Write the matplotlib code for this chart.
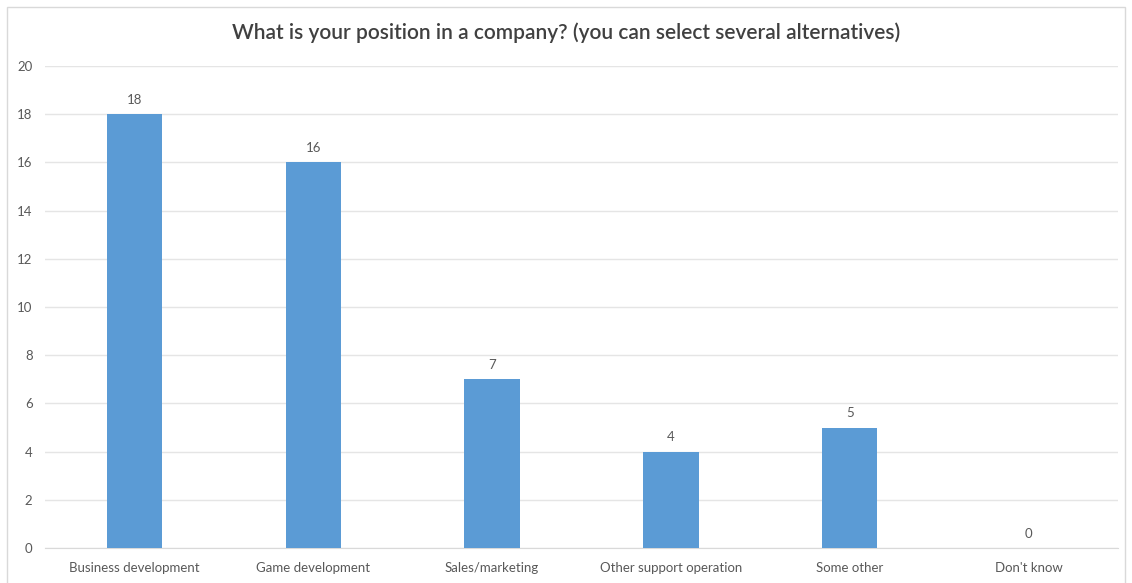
import matplotlib
matplotlib.use("Agg")
import matplotlib.pyplot as plt
from matplotlib.patches import Rectangle

categories = ["Business development", "Game development", "Sales/marketing",
              "Other support operation", "Some other", "Don't know"]
counts = [18, 16, 7, 4, 5, 0]
yticks = [0, 2, 4, 6, 8, 10, 12, 14, 16, 18, 20]
title = "What is your position in a company? (you can select several alternatives)"

plt.rcParams["font.family"] = ["Lato", "DejaVu Sans"]

fig = plt.figure(figsize=(11.32, 5.83), dpi=100)
ax = fig.add_axes([0.0398, 0.060, 0.9478, 0.8268])

# chart frame
fig.patches.append(Rectangle((7 / 1132, -0.01), 1 - 14 / 1132, 1 - 7 / 583 + 0.01,
                             transform=fig.transFigure, fill=False,
                             edgecolor="#D9D9D9", linewidth=1.0))

x = range(len(categories))
bars = ax.bar(x, counts, width=0.31, color="#5B9BD5", zorder=3)
for xi, v in zip(x, counts):
    ax.text(xi, v + 0.35, str(v), ha="center", va="bottom",
            fontsize=9.5, color="#595959")

ax.set_xlim(-0.5, len(categories) - 0.5)
ax.set_ylim(0, 20)
ax.set_yticks(yticks)
ax.set_xticks(list(x))
ax.set_xticklabels(categories)
ax.tick_params(axis="both", length=0, labelsize=9.5, labelcolor="#595959")
ax.tick_params(axis="y", pad=9)
ax.tick_params(axis="x", pad=10)
ax.grid(axis="y", color="#E5E5E5", linewidth=1.0, zorder=0)
for s in ["top", "right", "left"]:
    ax.spines[s].set_visible(False)
ax.spines["bottom"].set_color("#D9D9D9")

fig.text(0.5, 1 - 33 / 583, title, ha="center", va="center",
         fontsize=15, fontweight="semibold", color="#404040")

fig.savefig("out.png", dpi=100)
